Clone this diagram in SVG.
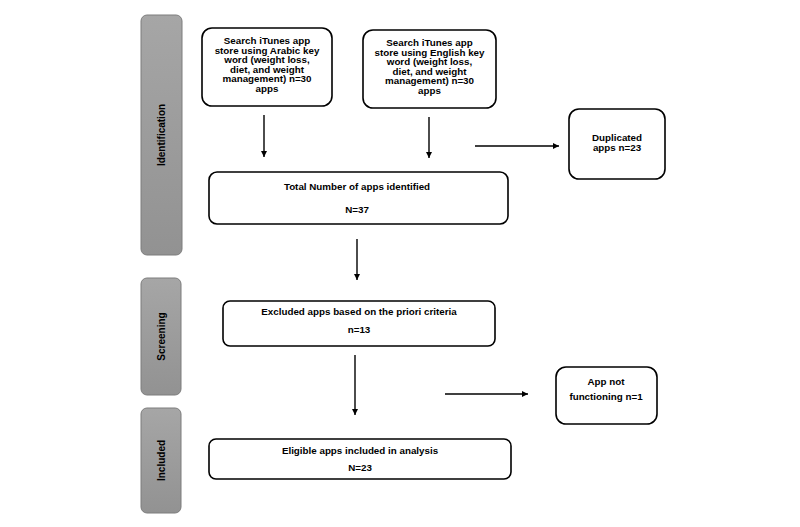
<svg xmlns="http://www.w3.org/2000/svg" width="800" height="527" viewBox="0 0 800 527">
<defs>
<linearGradient id="bar" x1="0" y1="0" x2="0" y2="1">
<stop offset="0" stop-color="#a6a6a6"/>
<stop offset="1" stop-color="#929292"/>
</linearGradient>
<marker id="ah" viewBox="0 0 10 10" refX="10" refY="5" markerWidth="6" markerHeight="6" markerUnits="userSpaceOnUse" orient="auto">
<path d="M0,0 L10,5 L0,10 z" fill="#000"/>
</marker>
<style>
.bar{fill:url(#bar);stroke:#7d7d7d;stroke-width:1}
.box{fill:#fff;stroke:#000;stroke-width:1.6}
.t{font-family:"Liberation Sans",Arial,sans-serif;font-weight:bold;font-size:9.8px;fill:#000;text-anchor:middle}
.bt{font-family:"Liberation Sans",Arial,sans-serif;font-weight:bold;font-size:10px;fill:#000;text-anchor:middle}
.c{stroke:#000;stroke-width:1.4;fill:none;marker-end:url(#ah)}
</style>
</defs>
<rect width="800" height="527" fill="#fff"/>
<g id="stage-identification">
<rect class="bar" x="141" y="15" width="41" height="240" rx="6"/>
<text class="bt" transform="translate(165,135) rotate(-90)">Identification</text>
</g>
<g id="stage-screening">
<rect class="bar" x="141" y="278" width="40" height="117" rx="6"/>
<text class="bt" transform="translate(164.5,336.5) rotate(-90)">Screening</text>
</g>
<g id="stage-included">
<rect class="bar" x="141" y="408" width="40" height="105" rx="6"/>
<text class="bt" transform="translate(164.5,460.5) rotate(-90)">Included</text>
</g>
<g id="search-arabic">
<rect class="box" x="202" y="28" width="130" height="78" rx="10"/>
<text class="t" x="267" y="44">Search iTunes app</text>
<text class="t" x="267" y="53.5">store using Arabic key</text>
<text class="t" x="267" y="63">word (weight loss,</text>
<text class="t" x="267" y="72.5">diet, and weight</text>
<text class="t" x="267" y="82">management) n=30</text>
<text class="t" x="267" y="91.5">apps</text>
</g>
<g id="search-english">
<rect class="box" x="363" y="30" width="133" height="78" rx="10"/>
<text class="t" x="429.5" y="46">Search iTunes app</text>
<text class="t" x="429.5" y="55.5">store using English key</text>
<text class="t" x="429.5" y="65">word (weight loss,</text>
<text class="t" x="429.5" y="74.5">diet, and weight</text>
<text class="t" x="429.5" y="84">management) n=30</text>
<text class="t" x="429.5" y="93.5">apps</text>
</g>
<g id="duplicated">
<rect class="box" x="569" y="109" width="96" height="70" rx="10"/>
<text class="t" x="617" y="141">Duplicated</text>
<text class="t" x="617" y="151">apps n=23</text>
</g>
<g id="total">
<rect class="box" x="209" y="172" width="299" height="52" rx="8"/>
<text class="t" x="357" y="189.5">Total Number of apps identified</text>
<text class="t" x="357" y="212.5">N=37</text>
</g>
<g id="excluded">
<rect class="box" x="223" y="301" width="272" height="45" rx="7"/>
<text class="t" x="359" y="315">Excluded apps based on the priori criteria</text>
<text class="t" x="359" y="332.5">n=13</text>
</g>
<g id="not-functioning">
<rect class="box" x="556" y="367" width="101" height="57" rx="10"/>
<text class="t" x="606" y="385">App not</text>
<text class="t" x="606" y="400">functioning n=1</text>
</g>
<g id="eligible">
<rect class="box" x="209" y="439" width="302" height="40" rx="7"/>
<text class="t" x="360" y="454">Eligible apps included in analysis</text>
<text class="t" x="360" y="471">N=23</text>
</g>
<g id="connectors">
<line class="c" x1="264" y1="115" x2="264" y2="157"/>
<line class="c" x1="429" y1="117" x2="429" y2="158"/>
<line class="c" x1="475" y1="146" x2="559" y2="146"/>
<line class="c" x1="357" y1="239" x2="357" y2="280"/>
<line class="c" x1="355" y1="355" x2="355" y2="415"/>
<line class="c" x1="445" y1="394" x2="528" y2="394"/>
</g>
</svg>
